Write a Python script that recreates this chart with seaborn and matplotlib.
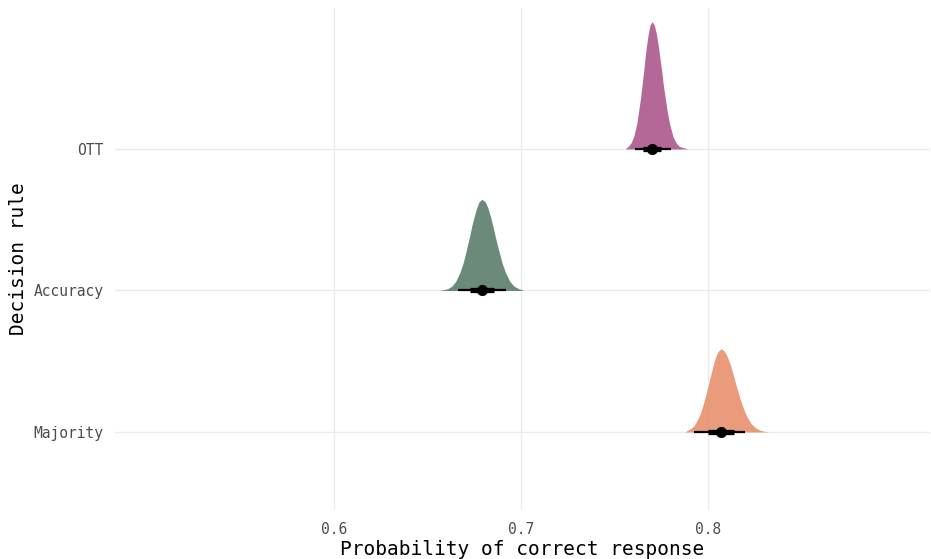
import numpy as np
import pandas as pd
import matplotlib
matplotlib.use("Agg")
from matplotlib import pyplot as plt
import seaborn as sns

# decision rules, bottom to top
rules = ["Majority", "Accuracy", "OTT"]
colors = {"Majority": "#e7906d", "Accuracy": "#5b7d6b", "OTT": "#ac578d"}

# posterior density outlines (x, density)
ott_x = [0.7556, 0.7573, 0.7589, 0.7603, 0.7619, 0.7629, 0.7639, 0.7647, 0.7655, 0.7662, 0.7670, 0.7680, 0.7689,
         0.7701,
         0.7713, 0.7724, 0.7735, 0.7744, 0.7753, 0.7761, 0.7771, 0.7781, 0.7794, 0.7812, 0.7828, 0.7846, 0.7893]
ott_d = [0, 2.2, 5.5, 11, 22, 33, 44, 55, 66, 77, 88, 99, 106.7,
         110,
         106.7, 99, 88, 77, 66, 55, 44, 33, 22, 11, 5.5, 2.2, 0]

acc_x = [0.6567, 0.6609, 0.6631, 0.6651, 0.6674, 0.6690, 0.6703, 0.6714, 0.6726, 0.6736, 0.6748, 0.6762, 0.6775,
         0.6791,
         0.6809, 0.6824, 0.6838, 0.6850, 0.6861, 0.6873, 0.6886, 0.6899, 0.6916, 0.6940, 0.6961, 0.6986, 0.7016]
acc_d = [0, 1.6, 3.9, 7.9, 15.8, 23.6, 31.5, 39.4, 47.3, 55.2, 63.0, 70.9, 76.4,
         78.8,
         76.4, 70.9, 63.0, 55.2, 47.3, 39.4, 31.5, 23.6, 15.8, 7.9, 3.9, 1.6, 0]

maj_x = [0.7876, 0.7890, 0.7913, 0.7932, 0.7955, 0.7970, 0.7983, 0.7994, 0.8005, 0.8016, 0.8027, 0.8040, 0.8054,
         0.8070,
         0.8088, 0.8104, 0.8120, 0.8133, 0.8145, 0.8158, 0.8171, 0.8186, 0.8204, 0.8230, 0.8254, 0.8280, 0.8321]
maj_d = [0, 1.4, 3.6, 7.2, 14.4, 21.6, 28.8, 35.9, 43.1, 50.3, 57.5, 64.7, 69.7,
         71.9,
         69.7, 64.7, 57.5, 50.3, 43.1, 35.9, 28.8, 21.6, 14.4, 7.2, 3.6, 1.4, 0]

# median, 66% and 95% intervals
medians = [0.8068, 0.6790, 0.7699]
lo66 = [0.8000, 0.6725, 0.7654]
hi66 = [0.8138, 0.6855, 0.7746]
lo95 = [0.7927, 0.6661, 0.7608]
hi95 = [0.8198, 0.6918, 0.7800]

slabs = {"Majority": (maj_x, maj_d), "Accuracy": (acc_x, acc_d), "OTT": (ott_x, ott_d)}

sns.set_theme(style="whitegrid")
plt.rcParams["font.family"] = ["DejaVu Sans Mono", "DejaVu Sans"]

fig = plt.figure(figsize=(9.31, 5.59), dpi=100)
ax = fig.add_axes([0.1235, 0.0877, 0.8755, 0.898])

dmax = max(max(d) for _, d in slabs.values())
for i, r in enumerate(rules):
    xs, ds = slabs[r]
    ys = np.array(ds) / dmax * 0.9
    ax.fill_between(xs, i + 1, i + 1 + ys, color=colors[r], alpha=0.9, linewidth=0, zorder=2)

pos = np.arange(1, len(rules) + 1)
ax.hlines(pos, lo95, hi95, color="black", linewidth=1.6, zorder=3)
ax.hlines(pos, lo66, hi66, color="black", linewidth=3.8, zorder=3)
pts = pd.DataFrame({"x": medians, "y": pos})
sns.scatterplot(data=pts, x="x", y="y", color="black", s=55, edgecolor="black", zorder=4, ax=ax)

ax.set_xlim(0.4829, 0.9187)
ax.set_ylim(0.449, 3.996)
ax.set_xticks([0.6, 0.7, 0.8])
ax.set_xticklabels(["0.6", "0.7", "0.8"])
ax.set_yticks(pos)
ax.set_yticklabels(rules)
ax.grid(True, color="#ebebeb", linewidth=1.0)
ax.set_facecolor("white")
for s in ax.spines.values():
    s.set_visible(False)
ax.tick_params(axis="both", length=0, labelsize=10.5, labelcolor="#4d4d4d")
ax.tick_params(axis="x", pad=9)
ax.tick_params(axis="y", pad=8)
ax.set_xlabel("Probability of correct response", fontsize=14, color="black", labelpad=2)
ax.set_ylabel("Decision rule", fontsize=14, color="black", labelpad=4)

fig.savefig("out.png", dpi=100, facecolor="white")
